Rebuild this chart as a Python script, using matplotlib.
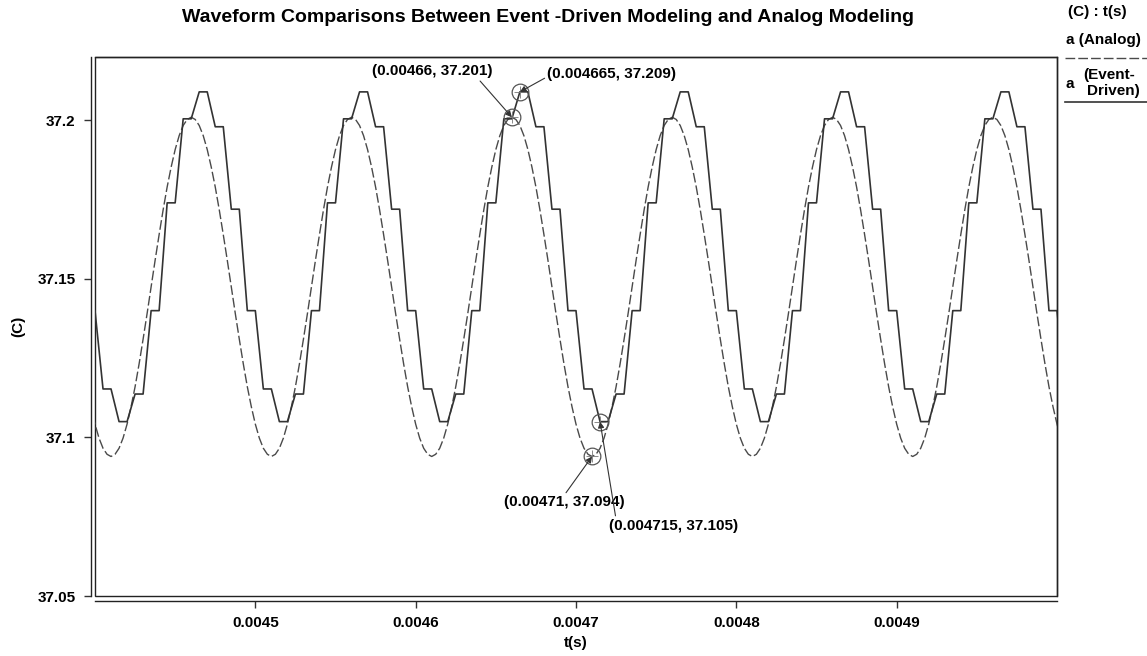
"""
Event-driven vs analog waveform comparison (temperature vs time)
"""
import matplotlib
matplotlib.use('Agg')
import matplotlib.pyplot as plt
from matplotlib.lines import Line2D
from matplotlib.patches import Rectangle
import numpy as np

plt.rcParams.update({
    'font.family': 'Liberation Sans',
    'font.weight': 'bold',
    'axes.labelweight': 'bold',
    'font.size':   11,
})

# analog waveform: one period read every 2.5 us, starting at the peak t = 0.00436
analog_t0 = 0.00436
analog_dt = 2.5e-6
analog_period = [37.2010, 37.2003, 37.1984, 37.1952, 37.1908, 37.1853, 37.1790, 37.1718, 37.1640, 37.1559,
                 37.1475, 37.1391, 37.1310, 37.1232, 37.1160, 37.1097, 37.1042, 37.0998, 37.0966, 37.0947,
                 37.0940, 37.0947, 37.0966, 37.0998, 37.1042, 37.1097, 37.1160, 37.1232, 37.1310, 37.1391,
                 37.1475, 37.1559, 37.1640, 37.1718, 37.1790, 37.1853, 37.1908, 37.1952, 37.1984, 37.2003]

# event-driven waveform: level reached every 10 us (first one at 0.004395), held 5 us, then ramps
step_t0 = 0.004395
step_dt = 1e-5
step_hold = 5e-6
step_levels = [37.140, 37.1153, 37.105, 37.1137, 37.140, 37.174, 37.2005, 37.209, 37.198, 37.172]

n_periods = 7

# annotated points
ann_pts = [(0.00466, 37.201), (0.004665, 37.209), (0.00471, 37.094), (0.004715, 37.105)]
ann_txt = ['(0.00466, 37.201)', '(0.004665, 37.209)', '(0.00471, 37.094)', '(0.004715, 37.105)']
ann_off = [(-80, 46), (92, 18), (-28, -46), (74, -104)]   # pixels
ann_rel = [(0.88, 0.0), (0.02, 0.4), (0.5, 1.0), (0.05, 1.0)]

tick_x = [0.0045, 0.0046, 0.0047, 0.0048, 0.0049]
tick_y = [37.05, 37.1, 37.15, 37.2]

# ---- build series
analog_y = np.concatenate([np.tile(analog_period, n_periods), analog_period[:1]])
analog_t = analog_t0 + analog_dt * np.arange(len(analog_y))

lev = np.tile(step_levels, n_periods)
t_reach = step_t0 + step_dt * np.arange(len(lev))
event_t = np.column_stack([t_reach, t_reach + step_hold]).ravel()
event_y = np.repeat(lev, 2)

fig = plt.figure(figsize=(11.47, 6.56), dpi=100)
ax = fig.add_axes([95 / 1147, 1 - 596 / 656, 962 / 1147, 539 / 656])

ax.plot(analog_t, analog_y, color='#4a4a4a', lw=1.0, dashes=(7, 2.2))
ax.plot(event_t, event_y, color='#333333', lw=1.2)

ax.set_xlim(0.0044, 0.005)
ax.set_ylim(37.05, 37.22)
ax.set_xticks(tick_x)
ax.set_xticklabels([f'{v:g}' for v in tick_x])
ax.set_yticks(tick_y)
ax.set_yticklabels([f'{v:g}' for v in tick_y])
ax.tick_params(direction='out', length=5, width=1, color='#333', labelsize=11, pad=6)

# separated axis lines + frame box
ax.spines['left'].set_position(('outward', 3))
ax.spines['bottom'].set_position(('outward', 3.5))
for s in ax.spines.values():
    s.set_linewidth(1.0)
    s.set_color('#222')
ax.add_patch(Rectangle((0, 0), 1, 1, transform=ax.transAxes, fill=False,
                       lw=1.0, ec='#222', clip_on=False))

ax.set_xlabel('t(s)', fontsize=11)
ax.xaxis.set_label_coords(0.5, -40 / 539)
ax.set_ylabel('(C)', fontsize=11)
ax.yaxis.set_label_coords(-70 / 962, 0.5)

# annotations
for (px, py), txt, off, rel in zip(ann_pts, ann_txt, ann_off, ann_rel):
    ax.plot(px, py, 'o', ms=12, mfc='none', mec='#555', mew=0.9)
    ax.plot(px, py, '+', ms=8, color='#777', mew=0.6)
    ax.annotate(txt, xy=(px, py), xytext=off, textcoords='offset pixels',
                ha='center', va='center', fontsize=11,
                arrowprops=dict(arrowstyle='-|>', color='#333', lw=0.8,
                                mutation_scale=9, relpos=rel, shrinkA=0, shrinkB=0))

fig.text(548 / 1147, 1 - 18 / 656, 'Waveform Comparisons Between Event -Driven Modeling and Analog Modeling',
         ha='center', va='center', fontsize=14)

# legend block at the right
fig.text(1068 / 1147, 1 - 12 / 656, '(C) : t(s)', ha='left', va='center', fontsize=11)
fig.text(1066 / 1147, 1 - 40 / 656, 'a (Analog)', ha='left', va='center', fontsize=11)
fig.add_artist(Line2D([1065 / 1147, 1], [1 - 58 / 656] * 2, transform=fig.transFigure,
                      color='#4a4a4a', lw=1.0, dashes=(7, 2.2)))
fig.text(1066 / 1147, 1 - 84 / 656, 'a', ha='left', va='center', fontsize=11)
fig.text(1083 / 1147, 1 - 75 / 656, '(Event-', ha='left', va='center', fontsize=11)
fig.text(1087 / 1147, 1 - 91 / 656, 'Driven)', ha='left', va='center', fontsize=11)
fig.add_artist(Line2D([1065 / 1147, 1], [1 - 102 / 656] * 2, transform=fig.transFigure,
                      color='#333333', lw=1.2))

plt.savefig('out.png', dpi=100)
plt.close()
